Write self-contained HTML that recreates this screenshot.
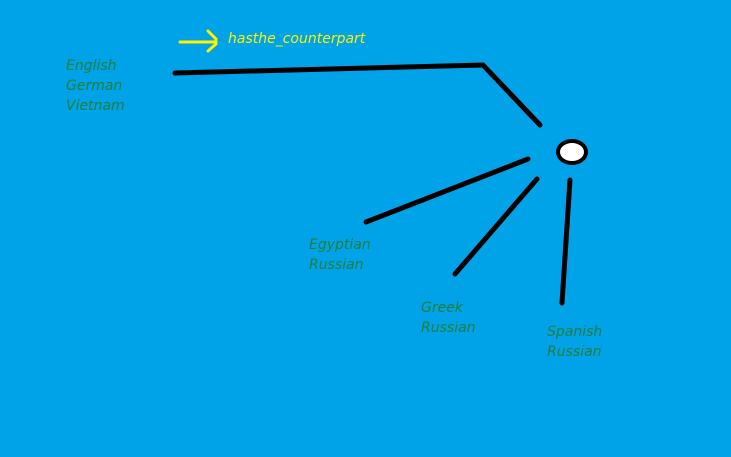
<!DOCTYPE html>
<html><head><meta charset="utf-8"><style>
html,body{margin:0;padding:0;background:#00A2E8;}
svg{display:block}
text{font-family:"DejaVu Sans","Liberation Sans",sans-serif;font-style:italic;font-size:14px;}
.g{fill:#1F7F3A}
</style></head><body>
<svg width="731" height="457" viewBox="0 0 731 457">
<rect width="731" height="457" fill="#00A2E8"/>
<g stroke="#000" stroke-width="5" stroke-linecap="round" fill="none">
<polyline points="175,73 483,65 540,125"/>
<line x1="528" y1="159" x2="366" y2="222"/>
<line x1="537" y1="179" x2="455" y2="274"/>
<line x1="570" y1="180" x2="562" y2="303"/>
</g>
<ellipse cx="572" cy="152" rx="14" ry="11" fill="#fff" stroke="#000" stroke-width="4"/>
<g stroke="#FFF200" stroke-width="3" fill="none" stroke-linecap="round">
<line x1="180" y1="42" x2="215" y2="42"/>
<polyline points="208,31 216,39 216,44 208,51"/>
</g>
<text x="228" y="43" fill="#FFF200">hasthe_counterpart</text>
<text class="g" x="66" y="70">English</text>
<text class="g" x="66" y="90">German</text>
<text class="g" x="66" y="110">Vietnam</text>
<text class="g" x="309" y="249">Egyptian</text>
<text class="g" x="309" y="269">Russian</text>
<text class="g" x="421" y="312">Greek</text>
<text class="g" x="421" y="332">Russian</text>
<text class="g" x="547" y="336">Spanish</text>
<text class="g" x="547" y="356">Russian</text>
</svg>
</body></html>
